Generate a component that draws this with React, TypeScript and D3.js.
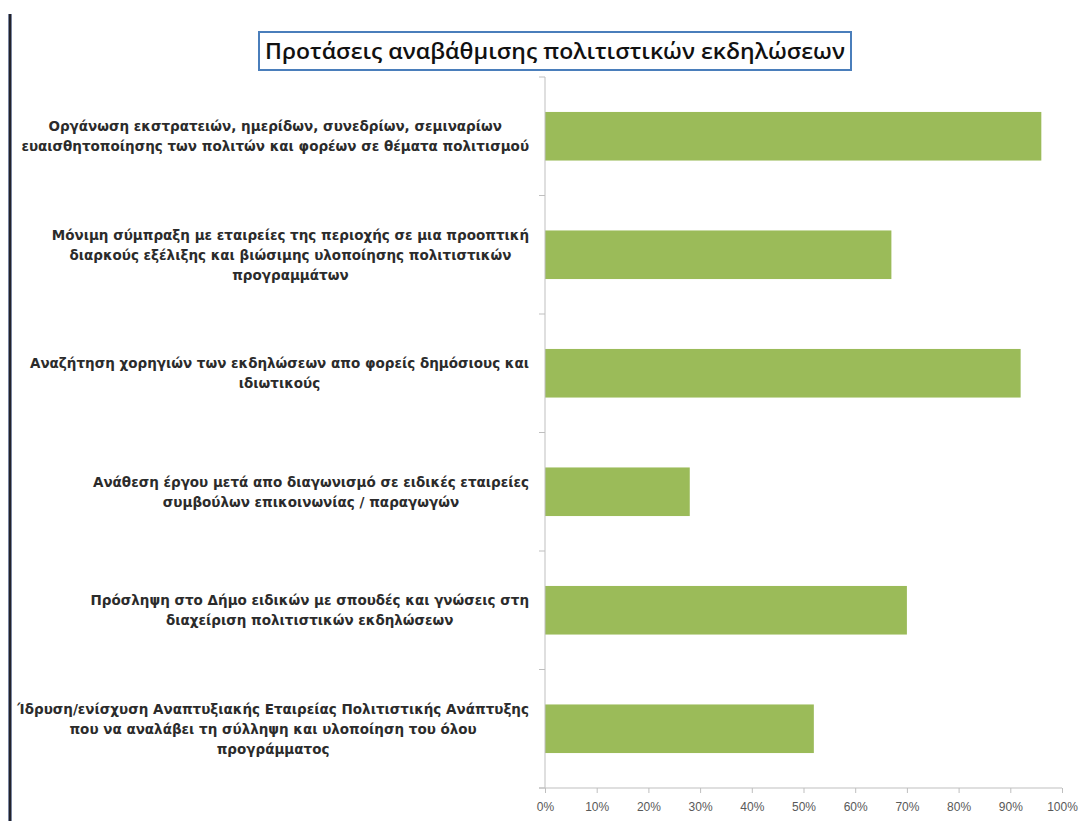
import React, { useRef, useEffect } from 'react';
import * as d3 from 'd3';

// Data
const categories: string[][] = [
  ['Οργάνωση εκστρατειών, ημερίδων, συνεδρίων, σεμιναρίων', 'ευαισθητοποίησης των πολιτών και φορέων σε θέματα πολιτισμού'],
  ['Μόνιμη σύμπραξη με εταιρείες της περιοχής σε μια προοπτική', 'διαρκούς εξέλιξης και βιώσιμης υλοποίησης  πολιτιστικών', 'προγραμμάτων'],
  ['Αναζήτηση χορηγιών των εκδηλώσεων απο φορείς δημόσιους και', 'ιδιωτικούς'],
  ['Ανάθεση έργου μετά απο διαγωνισμό σε ειδικές εταιρείες', 'συμβούλων επικοινωνίας / παραγωγών'],
  ['Πρόσληψη στο Δήμο ειδικών με σπουδές και γνώσεις στη', 'διαχείριση πολιτιστικών εκδηλώσεων'],
  ['Ίδρυση/ενίσχυση Αναπτυξιακής Εταιρείας Πολιτιστικής Ανάπτυξης', 'που να αναλάβει τη σύλληψη και υλοποίηση του όλου', 'προγράμματος'],
];
const values = [0.96, 0.67, 0.92, 0.28, 0.70, 0.52];
const xTicks = [0, 0.1, 0.2, 0.3, 0.4, 0.5, 0.6, 0.7, 0.8, 0.9, 1];
const title = 'Προτάσεις αναβάθμισης πολιτιστικών εκδηλώσεων';

const App = () => {
  const svgRef = useRef<SVGSVGElement>(null);

  useEffect(() => {
    if (!svgRef.current) return;
    const svg = d3.select(svgRef.current);
    svg.selectAll('*').remove();

    const width = 1083;
    const height = 821;
    const margin = { top: 77, right: 21, bottom: 33, left: 545 };
    const innerW = width - margin.left - margin.right;
    const innerH = height - margin.top - margin.bottom;

    svg.attr('width', width).attr('height', height).style('background', '#fff');

    // left dark border line
    svg.append('rect').attr('x', 8).attr('y', 14).attr('width', 4).attr('height', height - 14).attr('fill', '#7a86a0');
    svg.append('rect').attr('x', 9).attr('y', 14).attr('width', 2).attr('height', height - 14).attr('fill', '#23232b');

    // title box
    svg.append('rect')
      .attr('x', 259).attr('y', 32).attr('width', 592).attr('height', 38)
      .attr('fill', '#fff').attr('stroke', '#4a7ebb').attr('stroke-width', 2);
    svg.append('text')
      .attr('x', 555).attr('y', 59)
      .attr('text-anchor', 'middle')
      .attr('font-family', 'Open Sans, Noto Sans, sans-serif')
      .attr('font-weight', 600)
      .attr('font-size', 22)
      .attr('textLength', 580)
      .attr('lengthAdjust', 'spacingAndGlyphs')
      .attr('fill', '#111')
      .text(title);

    const g = svg.append('g').attr('transform', `translate(${margin.left},${margin.top})`);

    const x = d3.scaleLinear().domain([0, 1]).range([0, innerW]);
    const y = d3.scaleBand<number>()
      .domain(values.map((_, i) => i))
      .range([0, innerH])
      .paddingInner(0.59)
      .paddingOuter(0.295);

    // bars
    g.selectAll('.bar')
      .data(values)
      .enter()
      .append('rect')
      .attr('class', 'bar')
      .attr('x', 0)
      .attr('y', (_, i) => y(i)!)
      .attr('width', d => x(d))
      .attr('height', y.bandwidth())
      .attr('fill', '#9bbb59');

    // x axis
    const xAxis = d3.axisBottom(x)
      .tickValues(xTicks)
      .tickSize(5)
      .tickPadding(9)
      .tickFormat(d => `${Math.round(+d * 100)}%`);
    const xg = g.append('g').attr('transform', `translate(0,${innerH})`).call(xAxis);
    xg.select('.domain').attr('stroke', '#bfbfbf').attr('d', `M-6,0H${innerW}`);
    xg.selectAll('.tick line').attr('stroke', '#bfbfbf');
    xg.selectAll('.tick text')
      .attr('fill', '#595959')
      .attr('font-family', 'Liberation Sans, Arial, sans-serif')
      .attr('font-size', 12);

    // y axis: line + ticks at category boundaries
    const step = y.step();
    const boundaries = d3.range(values.length + 1).map(i => i * step);
    g.append('line').attr('x1', 0).attr('x2', 0).attr('y1', 0).attr('y2', innerH).attr('stroke', '#bfbfbf');
    g.selectAll('.ytick')
      .data(boundaries)
      .enter()
      .append('line')
      .attr('class', 'ytick')
      .attr('x1', -6).attr('x2', 0)
      .attr('y1', d => d).attr('y2', d => d)
      .attr('stroke', '#bfbfbf');

    // category labels: centred block, right-aligned to the axis
    const lineH = 20;
    const labelRight = 529;
    categories.forEach((lines, i) => {
      const cy = margin.top + y(i)! + y.bandwidth() / 2;
      const t = svg.append('text')
        .attr('font-family', 'DejaVu Sans, sans-serif')
        .attr('font-size', 13.5)
        .attr('font-weight', 'bold')
        .attr('fill', '#2b2b2b')
        .attr('text-anchor', 'middle');
      const spans = lines.map((ln, k) =>
        t.append('tspan')
          .attr('y', cy + (k - (lines.length - 1) / 2) * lineH + 5)
          .text(ln)
      );
      const maxW = d3.max(spans, s => (s.node() as SVGTSpanElement).getComputedTextLength()) || 0;
      spans.forEach(s => s.attr('x', labelRight - maxW / 2));
    });
  }, []);

  return (
    <div style={{ position: 'absolute', left: 0, top: 0 }}>
      <svg ref={svgRef}></svg>
    </div>
  );
};

export default App;
